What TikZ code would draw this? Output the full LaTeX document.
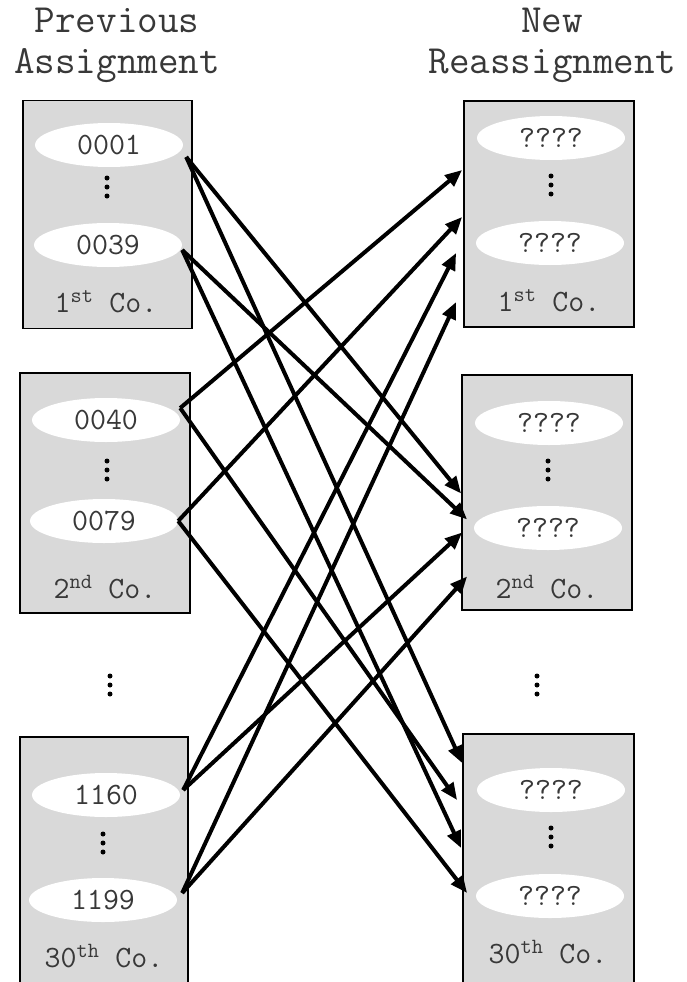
\documentclass[tikz,border=0pt]{standalone}
\usepackage{fontspec}
\usetikzlibrary{shapes.geometric,arrows.meta}

\definecolor{boxgray}{HTML}{D9D9D9}
\definecolor{inkgray}{HTML}{383838}
\newcommand\idfont{\ttfamily\fontsize{31}{34}\selectfont}
\newcommand\headfont{\ttfamily\fontsize{40}{41}\selectfont}
% three dots stacked round a named coordinate
\newcommand\stackdots[1]{\foreach \dy in {-9,0,9} \fill ([yshift=\dy pt]#1) circle (2.5pt);}

\tikzset{
  cobox/.style={rectangle, draw, line width=1.8pt, fill=boxgray, inner sep=0pt},
  idnode/.style={ellipse, fill=white, minimum width=148pt, minimum height=44pt, inner sep=0pt, font=\idfont, text=inkgray},
  coname/.style={anchor=base, font=\idfont, text=inkgray},
  head/.style={align=center, font=\headfont, text=inkgray},
  link/.style={-{Triangle[length=17pt,width=14pt]}, line width=4pt}
}

\begin{document}
\begin{tikzpicture}[x=1pt,y=1pt]
    \useasboundingbox (0,0) rectangle (686,-982);

    \node(prevhead) [head] at (117,-45) {Previous\\Assignment};
    \node(newhead) [head] at (552,-45) {New\\Reassignment};

    % previous assignment
    \node(lone) [cobox, minimum width=169pt, minimum height=228pt] at (107.5,-214.5) {};
    \node(ltwo) [cobox, minimum width=170pt, minimum height=240pt] at (105,-493) {};
    \node(lthree) [cobox, minimum width=168pt, minimum height=263pt] at (104,-868.5) {};

    \node(a1) [idnode] at (109,-145) {0001};
    \node(a2) [idnode] at (108,-245) {0039};
    \node(b1) [idnode] at (106,-420) {0040};
    \node(b2) [idnode] at (104,-521) {0079};
    \node(c1) [idnode] at (106,-795) {1160};
    \node(c2) [idnode] at (103,-900) {1199};

    \node(lonename) [coname] at (106,-312) {1\textsuperscript{st} Co.};
    \node(ltwoname) [coname] at (105,-598) {2\textsuperscript{nd} Co.};
    \node(lthreename) [coname] at (104,-967) {30\textsuperscript{th} Co.};

    \coordinate (ldots1) at (107,-187);
    \coordinate (ldots2) at (107,-470);
    \coordinate (ldots3) at (103,-843);
    \coordinate (lgap) at (110,-685);
    \stackdots{ldots1} \stackdots{ldots2} \stackdots{ldots3} \stackdots{lgap}

    % new reassignment
    \node(rone) [cobox, minimum width=170pt, minimum height=226pt] at (549,-214) {};
    \node(rtwo) [cobox, minimum width=170pt, minimum height=235pt] at (547,-492.5) {};
    \node(rthree) [cobox, minimum width=171pt, minimum height=266pt] at (548.5,-867) {};

    \node(p1) [idnode] at (551,-138) {????};
    \node(p2) [idnode] at (550,-243) {????};
    \node(q1) [idnode] at (549,-423) {????};
    \node(q2) [idnode] at (548,-528) {????};
    \node(s1) [idnode] at (551,-790) {????};
    \node(s2) [idnode] at (550,-896) {????};

    \node(ronename) [coname] at (549,-311) {1\textsuperscript{st} Co.};
    \node(rtwoname) [coname] at (547,-598) {2\textsuperscript{nd} Co.};
    \node(rthreename) [coname] at (548,-963) {30\textsuperscript{th} Co.};

    \coordinate (rdots1) at (551,-185);
    \coordinate (rdots2) at (548,-470);
    \coordinate (rdots3) at (551,-837);
    \coordinate (rgap) at (537,-685);
    \stackdots{rdots1} \stackdots{rdots2} \stackdots{rdots3} \stackdots{rgap}

    % reassignment arrows
    \draw[link] ([xshift=3pt,yshift=-12pt]a1.east) -- ([yshift=-1pt]rtwo.west);
    \draw[link] ([xshift=3pt,yshift=-12pt]a1.east) -- ([yshift=104pt]rthree.west);
    \draw[link] ([yshift=-5pt]a2.east) -- ([xshift=6pt,yshift=-27pt]rtwo.west);
    \draw[link] ([yshift=-5pt]a2.east) -- ([xshift=-1pt,yshift=19pt]rthree.west);
    \draw[link] ([yshift=12pt]b1.east) -- ([xshift=-1pt,yshift=44pt]rone.west);
    \draw[link] ([yshift=12pt]b1.east) -- ([xshift=-5pt,yshift=67pt]rthree.west);
    \draw[link] (b2.east) -- ([xshift=-1pt,yshift=-3pt]rone.west);
    \draw[link] (b2.east) -- ([xshift=5pt,yshift=-26pt]rthree.west);
    \draw[link] ([xshift=3pt,yshift=5pt]c1.east) -- ([xshift=-7pt,yshift=-39pt]rone.west);
    \draw[link] ([xshift=3pt,yshift=5pt]c1.east) -- ([xshift=1pt,yshift=-40pt]rtwo.west);
    \draw[link] ([xshift=5pt,yshift=7pt]c2.east) -- ([xshift=-7pt,yshift=-88pt]rone.west);
    \draw[link] ([xshift=5pt,yshift=7pt]c2.east) -- ([xshift=6pt,yshift=-84pt]rtwo.west);
  \end{tikzpicture}
\end{document}
